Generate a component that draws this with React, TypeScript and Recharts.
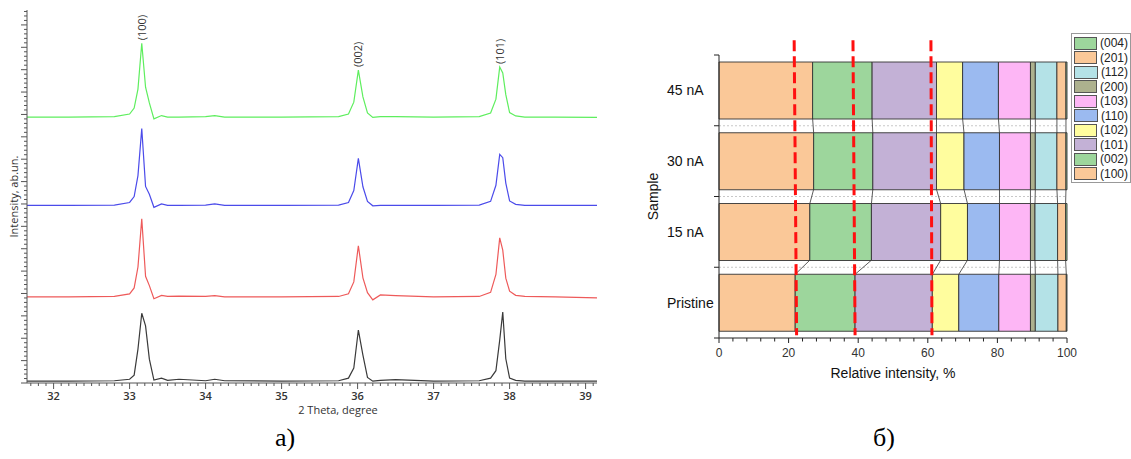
import React from 'react';
import {
  LineChart,
  Line,
  XAxis,
  YAxis,
  ReferenceDot,
  ComposedChart,
  Bar,
  ReferenceLine,
  Legend,
} from 'recharts';

// ---- panel а) XRD patterns ----
const THETA = [
  31.65, 32.2, 32.8, 33.0, 33.06, 33.11, 33.16, 33.21, 33.26, 33.32,
  33.42, 33.5, 33.65, 34.0, 34.12, 34.25, 35.0, 35.75, 35.88, 35.95,
  36.01, 36.07, 36.13, 36.2, 36.3, 36.5, 37.0, 37.6, 37.75, 37.82,
  37.87, 37.91, 37.95, 38.0, 38.08, 38.2, 38.6, 39.15,
];
// heights above each pattern's own baseline, a.u.
const XRD_45 = [0, 0, 1, 8, 24, 75, 198, 80, 38, -5, 4, 0, 0, 1, 4, 0, 0, 1, 8, 40, 126, 54, 11, -1, 1, 1, 0, 1, 11, 48, 134, 118, 60, 12, 3, 0, 0, -1];
const XRD_30 = [0, 0, 1, 8, 24, 80, 206, 51, 30, -5, 4, 0, 0, 1, 4, 0, 0, 1, 8, 40, 126, 50, 11, -1, 0, 0, 0, 1, 11, 54, 137, 128, 60, 12, 3, 0, 0, 0];
const XRD_15 = [0, 0, 1, 8, 24, 80, 209, 55, 30, -5, 4, 1, 2, 1, 3, 0, 0, 1, 8, 40, 137, 51, 11, -8, 5, 3, 0, 1, 12, 60, 158, 125, 50, 15, 4, 1, 0, -3];
const XRD_PRISTINE = [0, 0, 1, 5, 16, 86, 182, 148, 59, 3, 8, 2, 5, 1, 5, 1, 0, 1, 8, 35, 137, 70, 10, 0, 2, 4, 0, 1, 8, 28, 110, 185, 60, 8, 2, 0, 0, 0];
// vertical offsets of the stacked patterns
const XRD_SHIFT = [713, 476, 231, 5];

const PEAK_NAMES = ['(100)', '(002)', '(101)'];
const PEAK_THETA = [33.16, 36.01, 37.87];
const THETA_LABELS = [32, 33, 34, 35, 36, 37, 38, 39];

// ---- panel б) relative intensities ----
const SAMPLES = ['Pristine', '15 nA', '30 nA', '45 nA'];
const HKL = ['(100)', '(002)', '(101)', '(102)', '(110)', '(103)', '(200)', '(112)', '(201)', '(004)'];
const HKL_COLORS = ['#FAC898', '#9DD69C', '#C3B1D6', '#FFFD9E', '#9BBAF0', '#FDB6F5', '#ADB18E', '#B4E2E7', '#FAC898', '#9DD69C'];
const SHARE_PRISTINE = [21.9, 17.2, 22.2, 7.6, 11.5, 9.1, 1.4, 6.5, 2.4, 0.2];
const SHARE_15 = [26.1, 17.7, 19.9, 7.7, 9.2, 8.9, 1.3, 6.5, 2.3, 0.4];
const SHARE_30 = [27.2, 17.0, 18.3, 7.9, 10.2, 8.9, 1.4, 6.2, 2.6, 0.3];
const SHARE_45 = [26.9, 17.1, 18.5, 7.5, 10.3, 9.2, 1.4, 6.2, 2.6, 0.3];
const SHARE_TICKS = [0, 4, 8, 12, 16, 20, 24, 28, 32, 36, 40, 44, 48, 52, 56, 60, 64, 68, 72, 76, 80, 84, 88, 92, 96, 100];
// red guide lines (top / bottom end, %)
const GUIDE_TOP = [21.6, 38.5, 60.9];
const GUIDE_BOTTOM = [22.3, 39.1, 61.2];

const SANS = '"Liberation Sans", Arial, sans-serif';
const SOFT = '"Open Sans", sans-serif';

const xrdData = THETA.map((t, i) => ({
  t,
  a: XRD_45[i] + XRD_SHIFT[0],
  b: XRD_30[i] + XRD_SHIFT[1],
  c: XRD_15[i] + XRD_SHIFT[2],
  d: XRD_PRISTINE[i] + XRD_SHIFT[3],
}));

const thetaTicks = Array.from({ length: 75 }, (_, i) => Math.round((31.7 + i * 0.1) * 10) / 10);
const intensityTicks = Array.from({ length: 84 }, (_, i) => i * 12);

const shares = [SHARE_PRISTINE, SHARE_15, SHARE_30, SHARE_45];
const barData = SAMPLES.map((name, i) => {
  const row: Record<string, number | string> = { name, pos: i + 0.5 };
  HKL.forEach((_, j) => (row['h' + j] = shares[i][j]));
  return row;
});
const cumulative = shares.map((arr) => {
  let s = 0;
  return arr.map((v) => (s += v));
});

function ThetaTick(props: any) {
  const { x, y, payload } = props;
  const v = payload.value as number;
  const major = THETA_LABELS.some((m) => Math.abs(m - v) < 1e-6);
  return (
    <g>
      <line x1={x} x2={x} y1={y} y2={y + (major ? 6 : 3)} stroke="#555" />
      {major && (
        <text x={x} y={y + 17} textAnchor="middle" fontSize={11} fontWeight={600} fill="#333" fontFamily={SOFT}>
          {Math.round(v)}
        </text>
      )}
    </g>
  );
}

function IntensityTick(props: any) {
  const { x, y, payload } = props;
  const major = payload.value % 60 === 0;
  return <line x1={x - (major ? 6 : 3)} x2={x} y1={y} y2={y} stroke="#555" />;
}

function ShareTick(props: any) {
  const { x, y, payload } = props;
  const v = payload.value as number;
  const major = v % 20 === 0;
  return (
    <g>
      <line x1={x} x2={x} y1={y} y2={y + (major ? 5 : 3.5)} stroke="#222" />
      {major && (
        <text x={x} y={y + 18.5} textAnchor="middle" fontSize={12} fill="#333" fontFamily={SANS}>
          {v}
        </text>
      )}
    </g>
  );
}

function SampleTick(props: any) {
  const { x, y, payload } = props;
  const v = payload.value as number;
  if (Number.isInteger(v)) return <line x1={x - 5} x2={x} y1={y} y2={y} stroke="#222" />;
  return (
    <text x={x - 52} y={y + 5} fontSize={14} fill="#111" fontFamily={SANS}>
      {SAMPLES[Math.floor(v)]}
    </text>
  );
}

const peakLabel = (text: string) => (props: any) => {
  const vb = props.viewBox;
  const x = vb.x + vb.width / 2 + 4;
  const y = vb.y + vb.height / 2 - 3;
  return (
    <text x={x} y={y} transform={`rotate(-90 ${x} ${y})`} fontSize={11} fill="#333" fontFamily={SOFT}>
      {text}
    </text>
  );
};

// legend lists the planes top-down in reverse stacking order
function HklLegend() {
  const order = HKL.map((_, j) => HKL.length - 1 - j);
  return (
    <div style={{ border: '1px solid #999', background: '#fff', padding: '2px 2px 1px 2px', fontFamily: SANS, fontSize: 12, lineHeight: '14.5px', color: '#222' }}>
      {order.map((j) => (
        <div key={j} style={{ display: 'flex', alignItems: 'center', height: 14.5 }}>
          <span style={{ display: 'inline-block', width: 23, height: 11, background: HKL_COLORS[j], border: '1px solid #555', marginRight: 3 }} />
          {HKL[j]}
        </div>
      ))}
    </div>
  );
}

function XrdPanel() {
  return (
    <LineChart width={615} height={425} data={xrdData} margin={{ top: 10, right: 18, left: 0, bottom: 7 }}>
      <XAxis
        type="number"
        dataKey="t"
        domain={[31.65, 39.15]}
        allowDataOverflow
        ticks={thetaTicks}
        interval={0}
        tickSize={0}
        tickMargin={0}
        tickLine={false}
        tick={ThetaTick}
        height={35}
        stroke="#555"
        label={{ value: '2 Theta, degree', position: 'insideBottom', offset: 4, dx: 26, fontSize: 11, fill: '#333', fontFamily: SOFT }}
      />
      <YAxis
        type="number"
        domain={[0, 1000]}
        allowDataOverflow
        ticks={intensityTicks}
        interval={0}
        tickSize={0}
        tickMargin={0}
        tickLine={false}
        tick={IntensityTick}
        width={27}
        stroke="#555"
        label={{ value: 'Intensity, ab.un.', angle: -90, position: 'insideLeft', offset: 14, fontSize: 11, fill: '#333', fontFamily: SOFT, style: { textAnchor: 'middle' } }}
      />
      <Line type="linear" dataKey="d" stroke="#3a3a3a" strokeWidth={1.2} dot={false} isAnimationActive={false} />
      <Line type="linear" dataKey="c" stroke="#EE5A5A" strokeWidth={1.2} dot={false} isAnimationActive={false} />
      <Line type="linear" dataKey="b" stroke="#4B4BEA" strokeWidth={1.2} dot={false} isAnimationActive={false} />
      <Line type="linear" dataKey="a" stroke="#5EEE5E" strokeWidth={1.2} dot={false} isAnimationActive={false} />
      {PEAK_NAMES.map((name, i) => {
        const row = xrdData.find((r) => r.t === PEAK_THETA[i]);
        return (
          <ReferenceDot key={name} x={PEAK_THETA[i]} y={row ? row.a : 0} r={0} fill="none" stroke="none" label={{ content: peakLabel(name) }} />
        );
      })}
    </LineChart>
  );
}

function SharePanel() {
  return (
    <ComposedChart width={511} height={400} data={barData} layout="vertical" margin={{ top: 55, right: 64, left: 20, bottom: 22 }}>
      <XAxis
        type="number"
        domain={[0, 100]}
        ticks={SHARE_TICKS}
        interval={0}
        tickSize={0}
        tickMargin={0}
        tickLine={false}
        tick={ShareTick}
        height={40}
        stroke="#222"
        label={{ value: 'Relative intensity, %', position: 'insideBottom', offset: 0, fontSize: 14, fill: '#111', fontFamily: SANS }}
      />
      <YAxis
        type="number"
        dataKey="pos"
        domain={[0, 4]}
        reversed
        ticks={[0, 0.5, 1, 1.5, 2, 2.5, 3, 3.5, 4]}
        interval={0}
        tickSize={0}
        tickMargin={0}
        tickLine={false}
        tick={SampleTick}
        width={79}
        stroke="#222"
        label={{ value: 'Sample', angle: -90, position: 'insideLeft', offset: 13, fontSize: 14, fill: '#111', fontFamily: SANS, style: { textAnchor: 'middle' } }}
      />
      {[1, 2, 3].map((v) => (
        <ReferenceLine key={'g' + v} y={v} stroke="#c8c8c8" strokeDasharray="2 2" />
      ))}
      {HKL.map((name, j) => (
        <Bar
          key={name}
          dataKey={'h' + j}
          name={name}
          stackId="s"
          barSize={57}
          fill={HKL_COLORS[j]}
          stroke="#333"
          strokeWidth={0.9}
          isAnimationActive={false}
        />
      ))}
      {[0, 1, 2].flatMap((i) =>
        HKL.slice(0, 9).map((_, k) => (
          <ReferenceLine
            key={`c${i}-${k}`}
            segment={[
              { x: cumulative[i + 1][k], y: i + 1.1 },
              { x: cumulative[i][k], y: i + 0.9 },
            ]}
            stroke="#333"
            strokeWidth={0.8}
            ifOverflow="visible"
          />
        )),
      )}
      {GUIDE_TOP.map((top, i) => (
        <ReferenceLine
          key={'r' + i}
          segment={[
            { x: top, y: 4.21 },
            { x: GUIDE_BOTTOM[i], y: 0.04 },
          ]}
          stroke="#FF1010"
          strokeWidth={3}
          strokeDasharray="11 5"
          ifOverflow="visible"
        />
      ))}
      <Legend
        layout="vertical"
        align="center"
        verticalAlign="middle"
        content={HklLegend}
        wrapperStyle={{ left: 451, top: 33, width: 60, height: 'auto' }}
      />
    </ComposedChart>
  );
}

export default function App() {
  const panelLabel: React.CSSProperties = {
    position: 'absolute',
    top: 425,
    fontFamily: '"Liberation Serif", "Times New Roman", serif',
    fontSize: 26,
    lineHeight: '26px',
    color: '#000',
  };
  return (
    <div style={{ position: 'absolute', left: 0, top: 0, width: 1131, height: 459, background: '#fff' }}>
      <div style={{ position: 'absolute', left: 0, top: 0 }}>
        <XrdPanel />
      </div>
      <div style={{ position: 'absolute', left: 620, top: 0 }}>
        <SharePanel />
      </div>
      <div style={{ ...panelLabel, left: 275 }}>а)</div>
      <div style={{ ...panelLabel, left: 873 }}>б)</div>
    </div>
  );
}
